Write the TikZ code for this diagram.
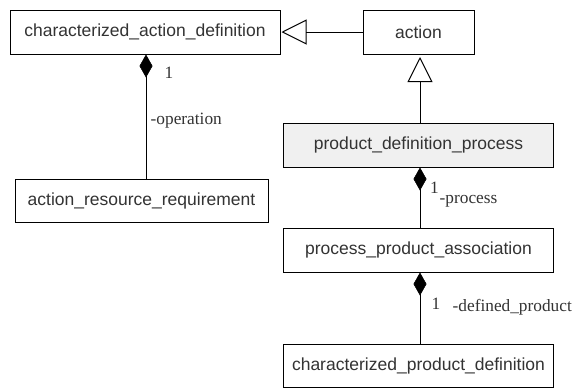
\documentclass[tikz,border=0pt]{standalone}
\usepackage{fontspec}
\setmainfont{Liberation Serif}
\setsansfont{Liberation Sans}
\usetikzlibrary{arrows.meta}
\definecolor{ink}{HTML}{333333}
\begin{document}
\begin{tikzpicture}[x=1pt,y=-1pt,
  classbox/.style={draw=black, line width=1pt, fill=white, inner sep=0pt,
    font=\sffamily\fontsize{17.5}{20}\selectfont, text=ink},
  rolelabel/.style={font=\rmfamily\fontsize{17.3}{19}\selectfont, text=ink, inner sep=0pt},
  generalization/.style={draw=black, line width=1pt,
    -{Triangle[open, length=25pt, width=25pt, line width=1pt]}},
  composition/.style={draw=black, line width=1pt,
    -{Diamond[length=23pt, width=13pt, fill=black, line width=0.6pt]}}]
  \useasboundingbox[fill=white] (0,0) rectangle (582,389);

  % classes
  \node[classbox, minimum width=270pt, minimum height=44pt] (cad) at (145,32) {characterized\_action\_definition};
  \node[classbox, minimum width=111pt, minimum height=44pt] (act) at (418.5,32) {action};
  \node[classbox, minimum width=253pt, minimum height=43pt] (arr) at (141.5,200.5) {action\_resource\_requirement};
  \node[classbox, fill=gray!12, minimum width=270pt, minimum height=44pt] (pdp) at (418.5,145) {product\_definition\_process};
  \node[classbox, minimum width=270pt, minimum height=44pt] (ppa) at (418.5,250) {process\_product\_association};
  \node[classbox, minimum width=270pt, minimum height=43pt] (cpd) at (418.5,366) {characterized\_product\_definition};

  % generalizations
  \draw[generalization] (act.west) -- ([xshift=1pt]cad.east);
  \draw[generalization, shorten >=2.5pt] ([xshift=1.5pt]pdp.north) -- ([xshift=1.5pt]act.south);

  % compositions
  \draw[composition] ([xshift=4.5pt]arr.north) -- ([xshift=4.5pt]arr.north |- cad.south);
  \draw[composition] ([xshift=1.5pt]ppa.north) -- ([xshift=1.5pt]pdp.south);
  \draw[composition] ([xshift=1.5pt]cpd.north) -- ([xshift=1.5pt]ppa.south);

  % role names and multiplicities
  \node[rolelabel] (m1) at (169,73) {1};
  \node[rolelabel, anchor=west] (r1) at (150.5,121) {-operation};
  \node[rolelabel] (m2) at (434.5,188) {1};
  \node[rolelabel, anchor=west] (r2) at (439.5,201) {-process};
  \node[rolelabel] (m3) at (436,304) {1};
  \node[rolelabel, anchor=west] (r3) at (452.5,307) {-defined\_product};
\end{tikzpicture}
\end{document}
